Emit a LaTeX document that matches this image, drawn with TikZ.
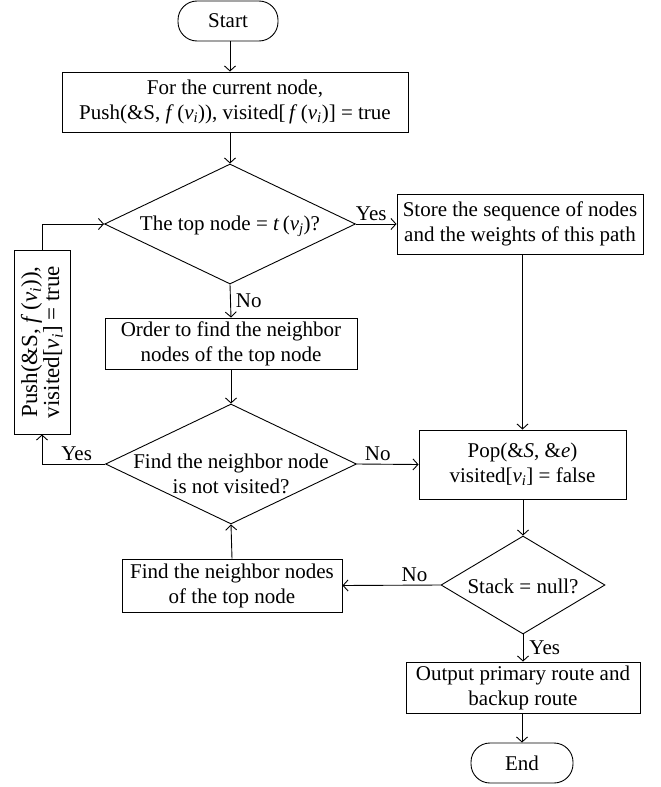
\documentclass[tikz,border=0pt]{standalone}
\usepackage{fontspec}
\setmainfont{Liberation Serif}
\usetikzlibrary{arrows.meta,shapes.geometric}
\newcommand{\myvi}{\textit{v}\textsubscript{\textit{i}}}
\newcommand{\myfv}{\textit{f}\,(\myvi)}
\begin{document}
\begin{tikzpicture}[x=1pt,y=-1pt,
  every node/.style={font=\fontsize{21}{25}\selectfont, inner sep=0pt, align=center},
  box/.style={draw, line width=0.9pt, rectangle},
  term/.style={draw, line width=0.9pt, rectangle, rounded corners=19pt, minimum width=100pt, minimum height=40pt},
  dia/.style={draw, line width=0.9pt, diamond},
  arr/.style={line width=0.9pt, -{Straight Barb[length=5pt,width=11pt]}}]
\useasboundingbox (0,0) rectangle (661,787);

\node[term] (start) at (228,21) {Start};
\node[box, minimum width=346pt, minimum height=60pt] (b1) at (235,102)
  {For the current node,\\Push(\&S, \myfv), visited[\,\myfv] = true};
\node[dia, minimum width=251pt, minimum height=120pt] (d1) at (230,224) {};
\node (d1t) at (230,226) {The top node = \textit{t}\,(\textit{v}\textsubscript{\textit{j}})?};
\node[box, minimum width=246pt, minimum height=60pt] (store) at (520,224)
  {Store the sequence of nodes\\and the weights of this path};
\node[box, minimum width=252pt, minimum height=51pt] (order) at (231,343.5)
  {Order to find the neighbor\\nodes of the top node};
\node[box, rotate=90, minimum width=184pt, minimum height=56pt,
      font=\fontsize{23}{22}\selectfont] (push) at (42,342)
  {Push(\&S, \myfv),\\visited[\myvi] = true};
\node[dia, minimum width=251pt, minimum height=120pt] (d2) at (231,464) {};
\node (d2t) at (231,474) {Find the neighbor node\\is not visited?};
\node[box, minimum width=207pt, minimum height=69pt] (pop) at (522.5,464.5)
  {Pop(\&\textit{S}, \&\textit{e})\\visited[\myvi] = false};
\node[dia, minimum width=164pt, minimum height=98pt] (d3) at (523,585) {};
\node (d3t) at (523,586) {Stack = null?};
\node[box, minimum width=220pt, minimum height=53pt] (find) at (232,585.5)
  {Find the neighbor nodes\\of the top node};
\node[box, minimum width=234pt, minimum height=51pt] (out) at (523,687.5)
  {Output primary route and\\backup route};
\node[term, minimum width=102pt] (end) at (522,763) {End};

\draw[arr] (start.south -| d1.north) -- (b1.north -| d1.north);
\draw[arr] (b1.south -| d1.north) -- (d1.north);
\draw[arr] (d1.east) -- node[above=3pt, xshift=-5pt] (yes1) {Yes} (store.west);
\draw[arr] (d1.south) -- node[right=5pt] (no1) {No} (order.north);
\draw[arr] (order.south) -- (d2.north);
\draw[arr] (d2.east) -- node[above=3pt, xshift=-10pt] (no2) {No} (pop.west);
\draw[arr] (d2.west) -| node[pos=0.225, above=3pt] (yes2) {Yes} (push.west);
\draw[arr] (push.east) |- (d1.west);
\draw[arr] (store.south -| pop.north) -- (pop.north);
\draw[arr] (pop.south -| d3.north) -- (d3.north);
\draw[arr] (d3.west) -- node[above=3pt, xshift=23pt] (no3) {No} (find.east);
\draw[arr] (find.north) -- (d2.south);
\draw[arr] (d3.south) -- node[right=6pt] (yes3) {Yes} (out.north);
\draw[arr] (out.south -| end.north) -- (end.north);
\end{tikzpicture}
\end{document}
